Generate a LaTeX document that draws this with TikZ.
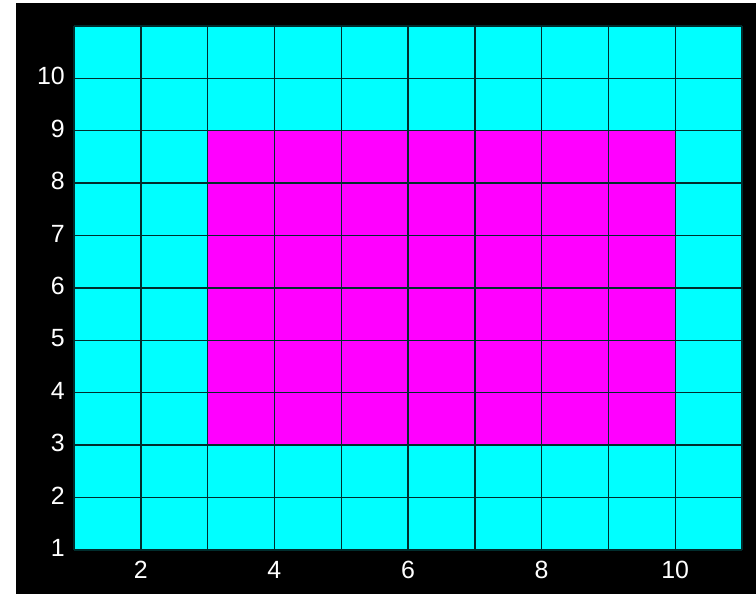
\documentclass[tikz,border=0pt]{standalone}
\usepackage{fontspec}
\setmainfont{Liberation Sans}
\definecolor{gridline}{RGB}{0,45,45}
\definecolor{cellcyan}{RGB}{0,255,255}
\definecolor{cellmag}{RGB}{255,0,255}
\tikzset{
  axislabel/.style={text=white, inner sep=0pt, font=\fontsize{25}{25}\selectfont},
  gridlines/.style={draw=gridline, line width=1.4bp}
}
\begin{document}
\begin{tikzpicture}[x=1bp,y=1bp]
  \fill[white] (0,0) rectangle (756,594);
  \useasboundingbox (0,0) rectangle (756,594);
  \fill[black] (16,0) rectangle (756,591);
  \begin{scope}[shift={(7.2bp,-8.4bp)}, x=66.8bp, y=52.4bp]
    \fill[cellcyan] (1,1) rectangle (11,11);
    \fill[cellmag] (3,3) rectangle (10,9);
    \foreach \v in {1,...,11} {
      \draw[gridlines] (\v,1) -- (\v,11);
      \draw[gridlines] (1,\v) -- (11,\v);
    }
    \foreach \v in {1,...,10} {
      \node[axislabel, anchor=east, xshift=-9bp, yshift=2bp] (ylab\v) at (1,\v) {\v};
    }
    \foreach \v in {2,4,...,10} {
      \node[axislabel, anchor=center, yshift=-20bp] (xlab\v) at (\v,1) {\v};
    }
  \end{scope}
\end{tikzpicture}
\end{document}
